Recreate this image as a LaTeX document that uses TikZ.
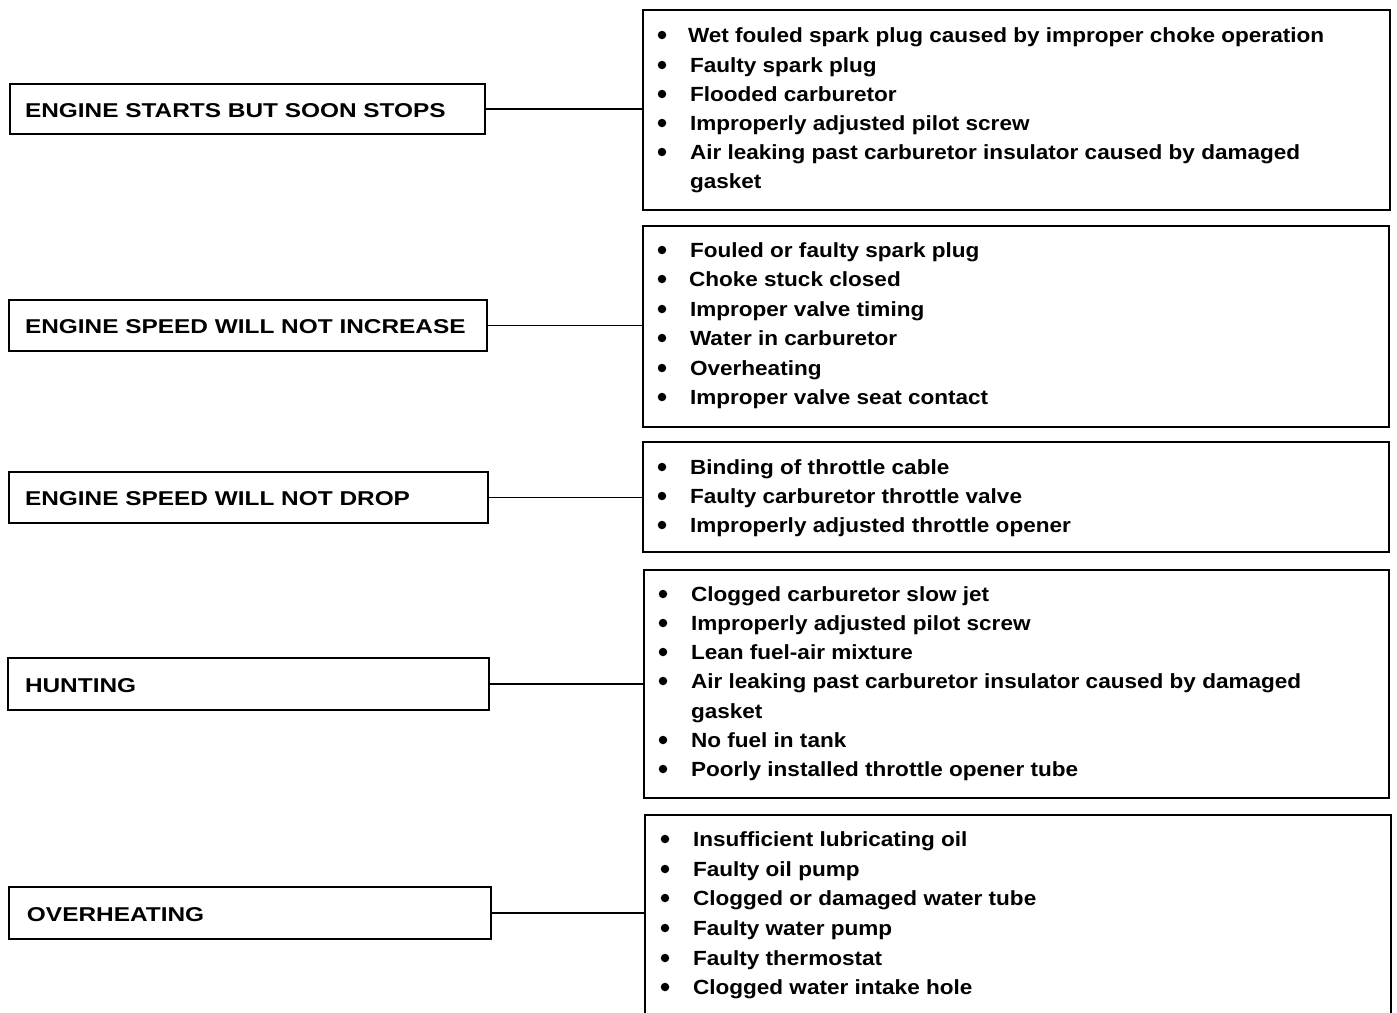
\documentclass[tikz,border=0pt]{standalone}
\usepackage{fontspec}
\setmainfont{Liberation Sans}[FakeStretch=1.1]
\newfontfamily\probfont{Liberation Sans}[FakeStretch=1.22]
\begin{document}
\begin{tikzpicture}[x=1pt,y=-1pt,
  every node/.style={inner sep=0pt,outer sep=0pt},
  prob/.style={draw,line width=1.8pt,anchor=north west},
  cause/.style={draw,line width=1.8pt,anchor=north west},
  conn/.style={line width=1.8pt},
  ptext/.style={anchor=base west,font=\probfont\fontsize{20}{20}\selectfont\bfseries},
  ctext/.style={anchor=base west,font=\fontsize{20.5}{20.5}\selectfont\bfseries},
  dot/.style={fill,circle,minimum size=8.5pt}
]
\useasboundingbox (0,0) rectangle (1397,1012);
\newcommand\cl[4]{%
  \node[dot] at (#1,#3) {};
  \node[ctext] at (#2,#3+7.5) {#4};}
% problem boxes
\node[prob,minimum width=475pt,minimum height=50pt] (p1) at (10,84) {};
\node[prob,minimum width=478pt,minimum height=51pt] (p2) at (9,300) {};
\node[prob,minimum width=479pt,minimum height=51pt] (p3) at (9,472) {};
\node[prob,minimum width=481pt,minimum height=52pt] (p4) at (8,658) {};
\node[prob,minimum width=482pt,minimum height=52pt] (p5) at (9,887) {};
\node[ptext] (t1) at (25,117) {ENGINE STARTS BUT SOON STOPS};
\node[ptext] (t2) at (25,333) {ENGINE SPEED WILL NOT INCREASE};
\node[ptext] (t3) at (25,505) {ENGINE SPEED WILL NOT DROP};
\node[ptext] (t4) at (25,692) {HUNTING};
\node[ptext] (t5) at (27,921) {OVERHEATING};
% cause boxes
\node[cause,minimum width=747pt,minimum height=200pt] (c1) at (643,10) {};
\node[cause,minimum width=746pt,minimum height=201pt] (c2) at (643,226) {};
\node[cause,minimum width=746pt,minimum height=110pt] (c3) at (643,442) {};
\node[cause,minimum width=745pt,minimum height=228pt] (c4) at (644,570) {};
\node[cause,minimum width=746pt,minimum height=210pt] (c5) at (645,815) {};
% connectors
\draw[conn] (p1.east) -- (p1.east -| c1.west);
\draw[conn] (p2.east) -- (p2.east -| c2.west);
\draw[conn] (p3.east) -- (p3.east -| c3.west);
\draw[conn] (p4.east) -- (p4.east -| c4.west);
\draw[conn] (p5.east) -- (p5.east -| c5.west);
% causes 1
\cl{662}{688}{35}{Wet fouled spark plug caused by improper choke operation}
\cl{662}{690}{65}{Faulty spark plug}
\cl{662}{690}{94}{Flooded carburetor}
\cl{662}{690}{123}{Improperly adjusted pilot screw}
\cl{662}{690}{152}{Air leaking past carburetor insulator caused by damaged}
\node[ctext] at (690,188.5) {gasket};
% causes 2
\cl{662}{690}{250}{Fouled or faulty spark plug}
\cl{662}{689}{279}{Choke stuck closed}
\cl{662}{690}{309}{Improper valve timing}
\cl{662}{690}{338}{Water in carburetor}
\cl{662}{690}{368}{Overheating}
\cl{662}{690}{397}{Improper valve seat contact}
% causes 3
\cl{662}{690}{467}{Binding of throttle cable}
\cl{662}{690}{496}{Faulty carburetor throttle valve}
\cl{662}{690}{525}{Improperly adjusted throttle opener}
% causes 4
\cl{663}{691}{594}{Clogged carburetor slow jet}
\cl{663}{691}{623}{Improperly adjusted pilot screw}
\cl{663}{691}{652}{Lean fuel-air mixture}
\cl{663}{691}{681}{Air leaking past carburetor insulator caused by damaged}
\node[ctext] at (691,718.5) {gasket};
\cl{663}{691}{740}{No fuel in tank}
\cl{663}{691}{769}{Poorly installed throttle opener tube}
% causes 5
\cl{665}{693}{839}{Insufficient lubricating oil}
\cl{665}{693}{869}{Faulty oil pump}
\cl{665}{693}{898}{Clogged or damaged water tube}
\cl{665}{693}{928}{Faulty water pump}
\cl{665}{693}{958}{Faulty thermostat}
\cl{665}{693}{987}{Clogged water intake hole}
\end{tikzpicture}
\end{document}
